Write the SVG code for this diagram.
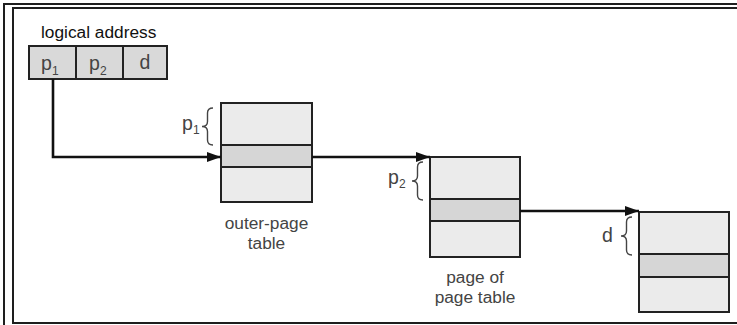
<svg xmlns="http://www.w3.org/2000/svg" width="737" height="325" viewBox="0 0 737 325">
<style>
.frame{fill:none;stroke:#1e1e1e;stroke-width:2}
.tbl{fill:#ebebeb;stroke:#222;stroke-width:2}
.band{fill:#d6d6d6;stroke:#222;stroke-width:2}
.cell{fill:#d9d9d9;stroke:#222;stroke-width:2}
.brace{fill:none;stroke:#444;stroke-width:1.4}
.lbl{font-family:"Liberation Sans",Arial,sans-serif;font-size:17.3px;fill:#444}
.sym{font-family:"Liberation Sans",Arial,sans-serif;font-size:19.5px;fill:#444}
.sub{font-family:"Liberation Sans",Arial,sans-serif;font-size:12px;fill:#444}
.conn{fill:none;stroke:#111;stroke-width:2.6}
</style>
<defs>
<marker id="ah" viewBox="0 0 14 10" refX="14" refY="5" markerWidth="14" markerHeight="10" markerUnits="userSpaceOnUse" orient="auto">
<path d="M0,0 L14,5 L0,10 Z" fill="#111"/>
</marker>
</defs>
<rect width="737" height="325" fill="#fff"/>
<g id="frame">
<path class="frame" d="M4,325 V4 H737"/>
<path class="frame" d="M737,323 H13 V8 H737"/>
</g>
<g id="logical-address">
<text x="41" y="38" class="lbl" style="fill:#111">logical address</text>
<rect class="cell" x="29" y="46" width="47" height="33"/>
<rect class="cell" x="76" y="46" width="47" height="33"/>
<rect class="cell" x="123" y="46" width="44" height="33"/>
<text x="41" y="70" class="sym">p</text><text x="52" y="75" class="sub">1</text>
<text x="89" y="70" class="sym">p</text><text x="100" y="75" class="sub">2</text>
<text x="139.5" y="69" class="sym">d</text>
</g>
<g id="outer-page-table">
<rect class="tbl" x="221" y="103" width="91" height="99"/>
<rect class="band" x="221" y="145" width="91" height="22"/>
<path class="brace" d="M213,108 Q207.5,108 207.5,113 L207.5,121.5 Q207.5,126.5 202,126.5 Q207.5,126.5 207.5,131.5 L207.5,140 Q207.5,145 213,145"/>
<text x="182" y="130" class="sym">p</text><text x="193" y="134" class="sub">1</text>
<text x="266.5" y="229" class="lbl" text-anchor="middle">outer-page</text>
<text x="266.5" y="249" class="lbl" text-anchor="middle">table</text>
</g>
<g id="page-of-page-table">
<rect class="tbl" x="430" y="157" width="90" height="100"/>
<rect class="band" x="430" y="199" width="90" height="22"/>
<path class="brace" d="M423,162 Q417.5,162 417.5,167 L417.5,176 Q417.5,181 412,181 Q417.5,181 417.5,186 L417.5,195 Q417.5,200 423,200"/>
<text x="388" y="184" class="sym">p</text><text x="399" y="188" class="sub">2</text>
<text x="475" y="283" class="lbl" text-anchor="middle">page of</text>
<text x="475" y="303" class="lbl" text-anchor="middle">page table</text>
</g>
<g id="page">
<rect class="tbl" x="639" y="212" width="90" height="100"/>
<rect class="band" x="639" y="254" width="90" height="23"/>
<path class="brace" d="M632,217 Q626.5,217 626.5,222 L626.5,231 Q626.5,236 621,236 Q626.5,236 626.5,241 L626.5,250 Q626.5,255 632,255"/>
<text x="602" y="242" class="sym">d</text>
</g>
<g id="connectors">
<path class="conn" d="M53,79 V157 H221" marker-end="url(#ah)"/>
<path class="conn" d="M312,157 H430" marker-end="url(#ah)"/>
<path class="conn" d="M520,211 H639" marker-end="url(#ah)"/>
</g>
</svg>
